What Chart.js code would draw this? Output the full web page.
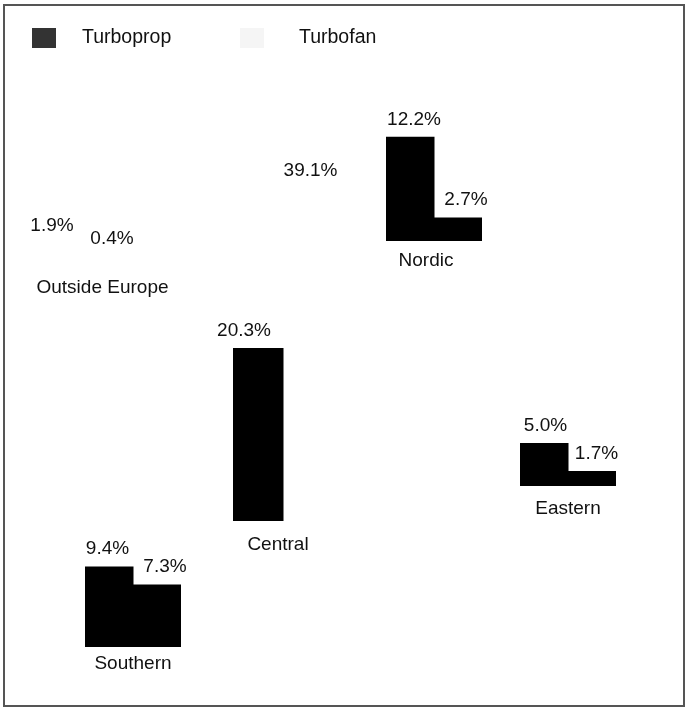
<!DOCTYPE html>
<html><head><meta charset="utf-8">
<script src="https://cdn.jsdelivr.net/npm/chart.js@4.4.1/dist/chart.umd.min.js"></script>
<style>
html,body{margin:0;padding:0;background:#fff;}
#wrap{position:relative;width:686px;height:707px;overflow:hidden;background:#fff;}
#frame{position:absolute;left:3px;top:4px;width:682px;height:703px;border:2px solid #555;box-sizing:border-box;}
canvas{position:absolute;}
</style></head><body>
<div id="wrap"><div id="frame"></div><canvas id="legend" width="686" height="80" style="left:0;top:0"></canvas></div>
<script>
// ---- data ----
const regions   = ['Outside Europe', 'Nordic', 'Central', 'Eastern', 'Southern'];
const seriesNames = ['Turboprop', 'Turbofan'];
const turboprop = [1.9, 12.2, 20.3, 5.0, 9.4];
const turbofan  = [0.4, 2.7, 39.1, 1.7, 7.3];

// ---- style / layout (kept apart from data) ----
const PX_PER_PCT = 8.5;
const FONT = '19px "Liberation Sans", Arial, sans-serif';
const LEGEND_FONT = '19.5px "Liberation Sans", Arial, sans-serif';
const TEXT = '#111';
const legendColors = ['#333333', '#f5f5f5'];
const shown = [[false, false], [true, true], [true, false], [true, true], [true, true]];
const layout = [
  {left: 22,  barW: 60, base: 260, nameDx: 20.5, nameDy: 27.5, labelDx: [0, 0]},
  {left: 386, barW: 48, base: 241, nameDx: -8,   nameDy: 20,   labelDx: [4, 8]},
  {left: 233, barW: 50, base: 521, nameDx: -5,   nameDy: 23.5, labelDx: [-14, 2.5]},
  {left: 520, barW: 48, base: 486, nameDx: 0,    nameDy: 22.5, labelDx: [1.5, 4.5]},
  {left: 85,  barW: 48, base: 647, nameDx: 0,    nameDy: 16.5, labelDx: [-1.5, 8]}
];
const LABEL_GAP = 18;

// legend chart (no marks, only the legend)
new Chart(document.getElementById('legend'), {
  type: 'bar',
  data: {labels: [], datasets: seriesNames.map((n, k) => ({label: n, data: [], backgroundColor: legendColors[k]}))},
  options: {
    responsive: false, animation: false, devicePixelRatio: 1,
    plugins: {legend: {display: false}, tooltip: {enabled: false}},
    scales: {x: {display: false}, y: {display: false}}
  },
  plugins: [{
    id: 'customLegend',
    afterDraw(chart) {
      const ctx = chart.ctx;
      const boxes = [{x: 32, y: 28, text: 82}, {x: 240, y: 28, text: 299}];
      ctx.save();
      chart.data.datasets.forEach((ds, k) => {
        ctx.fillStyle = ds.backgroundColor;
        ctx.fillRect(boxes[k].x, boxes[k].y, 24, 20);
        ctx.fillStyle = TEXT;
        ctx.font = LEGEND_FONT;
        ctx.textAlign = 'left';
        ctx.textBaseline = 'middle';
        ctx.fillText(ds.label, boxes[k].text, 38);
      });
      ctx.restore();
    }
  }]
});

const labelPlugin = {
  id: 'valueLabels',
  afterDatasetsDraw(chart) {
    const ctx = chart.ctx;
    const L = chart.options.plugins.regionLayout;
    const meta = chart.getDatasetMeta(0);
    ctx.save();
    ctx.font = FONT;
    ctx.fillStyle = TEXT;
    ctx.textAlign = 'center';
    ctx.textBaseline = 'middle';
    meta.data.forEach((el, k) => {
      const v = chart.data.datasets[0].data[k];
      ctx.fillText(v.toFixed(1) + '%', el.x + L.labelDx[k], el.y - LABEL_GAP);
    });
    const ca = chart.chartArea;
    ctx.fillText(L.name, (ca.left + ca.right) / 2 + L.nameDx, ca.bottom + L.nameDy);
    ctx.restore();
  }
};

const wrap = document.getElementById('wrap');
regions.forEach((name, i) => {
  const L = layout[i];
  const padX = 40, bottomRoom = 45;
  const maxV = Math.max(turboprop[i], turbofan[i]);
  const topRoom = Math.ceil(maxV * PX_PER_PCT + 40);
  const cv = document.createElement('canvas');
  const w = 2 * L.barW + 2 * padX;
  cv.width = w; cv.height = topRoom + bottomRoom;
  cv.style.left = (L.left - padX) + 'px';
  cv.style.top = (L.base - topRoom) + 'px';
  cv.style.width = w + 'px';
  cv.style.height = (topRoom + bottomRoom) + 'px';
  wrap.appendChild(cv);
  new Chart(cv, {
    type: 'bar',
    data: {
      labels: seriesNames,
      datasets: [{
        label: name,
        data: [turboprop[i], turbofan[i]],
        backgroundColor: shown[i].map(s => s ? '#000000' : 'rgba(0,0,0,0)'),
        borderColor: shown[i].map(s => s ? '#000000' : 'rgba(0,0,0,0)'),
        borderWidth: 0,
        borderSkipped: false,
        categoryPercentage: 1,
        barPercentage: 1,
        inflateAmount: 0.5
      }]
    },
    options: {
      responsive: false, animation: false, devicePixelRatio: 1,
      layout: {padding: {left: padX, right: padX, top: 0, bottom: bottomRoom}},
      plugins: {
        legend: {display: false}, tooltip: {enabled: false},
        regionLayout: Object.assign({name: name}, L)
      },
      scales: {
        x: {display: false},
        y: {display: false, min: 0, max: topRoom / PX_PER_PCT}
      }
    },
    plugins: [labelPlugin]
  });
});
</script>
</body></html>
